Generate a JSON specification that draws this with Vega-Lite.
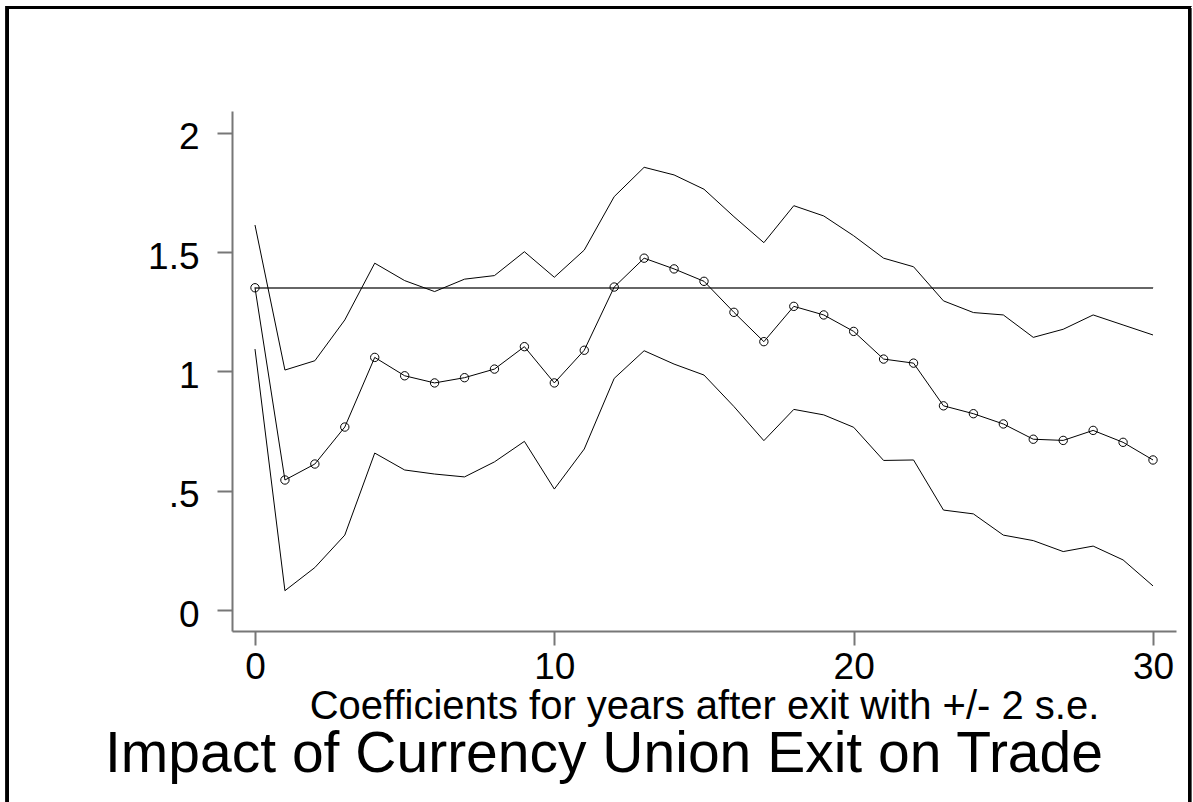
{
  "$schema": "https://vega.github.io/schema/vega-lite/v6.json",
  "autosize": "none",
  "width": 944,
  "height": 520,
  "padding": {"left": 232, "top": 111, "right": 17, "bottom": 171},
  "background": "white",
  "config": {"view": {"stroke": null}, "font": "Liberation Sans"},
  "title": {
    "text": "Impact of Currency Union Exit on Trade",
    "orient": "bottom",
    "anchor": "middle",
    "frame": "group",
    "fontSize": 57,
    "fontWeight": "normal",
    "font": "Liberation Sans",
    "color": "black",
    "baseline": "alphabetic",
    "offset": -47,
    "dx": -100
  },
  "data": {
    "values": [
      {"k": 0, "coef": 1.351, "upper": 1.614, "lower": 1.094},
      {"k": 1, "coef": 0.545, "upper": 1.006, "lower": 0.081},
      {"k": 2, "coef": 0.612, "upper": 1.045, "lower": 0.178},
      {"k": 3, "coef": 0.767, "upper": 1.216, "lower": 0.314},
      {"k": 4, "coef": 1.059, "upper": 1.454, "lower": 0.658},
      {"k": 5, "coef": 0.982, "upper": 1.381, "lower": 0.587},
      {"k": 6, "coef": 0.952, "upper": 1.335, "lower": 0.570},
      {"k": 7, "coef": 0.974, "upper": 1.387, "lower": 0.558},
      {"k": 8, "coef": 1.010, "upper": 1.402, "lower": 0.621},
      {"k": 9, "coef": 1.104, "upper": 1.502, "lower": 0.707},
      {"k": 10, "coef": 0.952, "upper": 1.395, "lower": 0.507},
      {"k": 11, "coef": 1.089, "upper": 1.509, "lower": 0.675},
      {"k": 12, "coef": 1.354, "upper": 1.733, "lower": 0.971},
      {"k": 13, "coef": 1.475, "upper": 1.856, "lower": 1.087},
      {"k": 14, "coef": 1.430, "upper": 1.824, "lower": 1.031},
      {"k": 15, "coef": 1.378, "upper": 1.764, "lower": 0.985},
      {"k": 16, "coef": 1.248, "upper": 1.649, "lower": 0.853},
      {"k": 17, "coef": 1.125, "upper": 1.540, "lower": 0.710},
      {"k": 18, "coef": 1.273, "upper": 1.695, "lower": 0.841},
      {"k": 19, "coef": 1.237, "upper": 1.652, "lower": 0.818},
      {"k": 20, "coef": 1.168, "upper": 1.569, "lower": 0.766},
      {"k": 21, "coef": 1.052, "upper": 1.475, "lower": 0.627},
      {"k": 22, "coef": 1.035, "upper": 1.439, "lower": 0.629},
      {"k": 23, "coef": 0.856, "upper": 1.296, "lower": 0.419},
      {"k": 24, "coef": 0.823, "upper": 1.247, "lower": 0.403},
      {"k": 25, "coef": 0.780, "upper": 1.237, "lower": 0.314},
      {"k": 26, "coef": 0.716, "upper": 1.143, "lower": 0.291},
      {"k": 27, "coef": 0.711, "upper": 1.177, "lower": 0.245},
      {"k": 28, "coef": 0.753, "upper": 1.237, "lower": 0.268},
      {"k": 29, "coef": 0.703, "upper": 1.195, "lower": 0.210},
      {"k": 30, "coef": 0.629, "upper": 1.153, "lower": 0.101}
    ]
  },
  "encoding": {
    "x": {
      "field": "k",
      "type": "quantitative",
      "scale": {"domain": [-0.768, 30.768], "nice": false, "zero": false},
      "axis": {
        "values": [0, 10, 20, 30],
        "title": "Coefficients for years after exit with +/- 2 s.e.",
        "titleFontSize": 40,
        "titleFontWeight": "normal",
        "titleColor": "black",
        "titleFont": "Liberation Sans",
        "titleBaseline": "alphabetic",
        "titleY": 87,
        "labelFontSize": 37,
        "labelFont": "Liberation Sans",
        "labelColor": "black",
        "labelPadding": 4,
        "labelFlush": false,
        "labelOverlap": false,
        "tickSize": 14,
        "tickWidth": 2,
        "tickColor": "#777777",
        "domainColor": "#777777",
        "domainWidth": 2,
        "grid": false
      }
    }
  },
  "layer": [
    {
      "mark": {"type": "rect", "fill": null, "stroke": "black", "strokeWidth": 3, "clip": false},
      "encoding": {
        "x": {"datum": -8.27, "type": "quantitative"},
        "x2": {"datum": 31.22},
        "y": {"datum": 2.526, "type": "quantitative"},
        "y2": {"datum": -0.87}
      }
    },
    {
      "mark": {"type": "rule", "color": "#666666", "strokeWidth": 1.5},
      "encoding": {
        "x": {"datum": 0, "type": "quantitative"},
        "x2": {"datum": 30},
        "y": {"datum": 1.351, "type": "quantitative"}
      }
    },
    {
      "mark": {"type": "line", "color": "black", "strokeWidth": 1},
      "encoding": {
        "y": {
          "field": "upper",
          "type": "quantitative",
          "scale": {"domain": [-0.088, 2.092], "nice": false, "zero": false},
          "axis": {
            "values": [0, 0.5, 1, 1.5, 2],
            "labelExpr": "datum.value == 0.5 ? '.5' : toString(datum.value)",
            "title": null,
            "labelFontSize": 37,
            "labelFont": "Liberation Sans",
            "labelColor": "black",
            "labelPadding": 18,
            "labelOffset": 5,
            "labelFlush": false,
            "labelOverlap": false,
            "tickSize": 15,
            "tickWidth": 2,
            "tickColor": "#777777",
            "domainColor": "#777777",
            "domainWidth": 2,
            "grid": false
          }
        }
      }
    },
    {
      "mark": {"type": "line", "color": "black", "strokeWidth": 1},
      "encoding": {"y": {"field": "lower", "type": "quantitative"}}
    },
    {
      "mark": {"type": "line", "color": "black", "strokeWidth": 1},
      "encoding": {"y": {"field": "coef", "type": "quantitative"}}
    },
    {
      "mark": {"type": "point", "shape": "circle", "filled": false, "color": "black", "strokeWidth": 1, "size": 70, "opacity": 1},
      "encoding": {"y": {"field": "coef", "type": "quantitative"}}
    }
  ]
}
